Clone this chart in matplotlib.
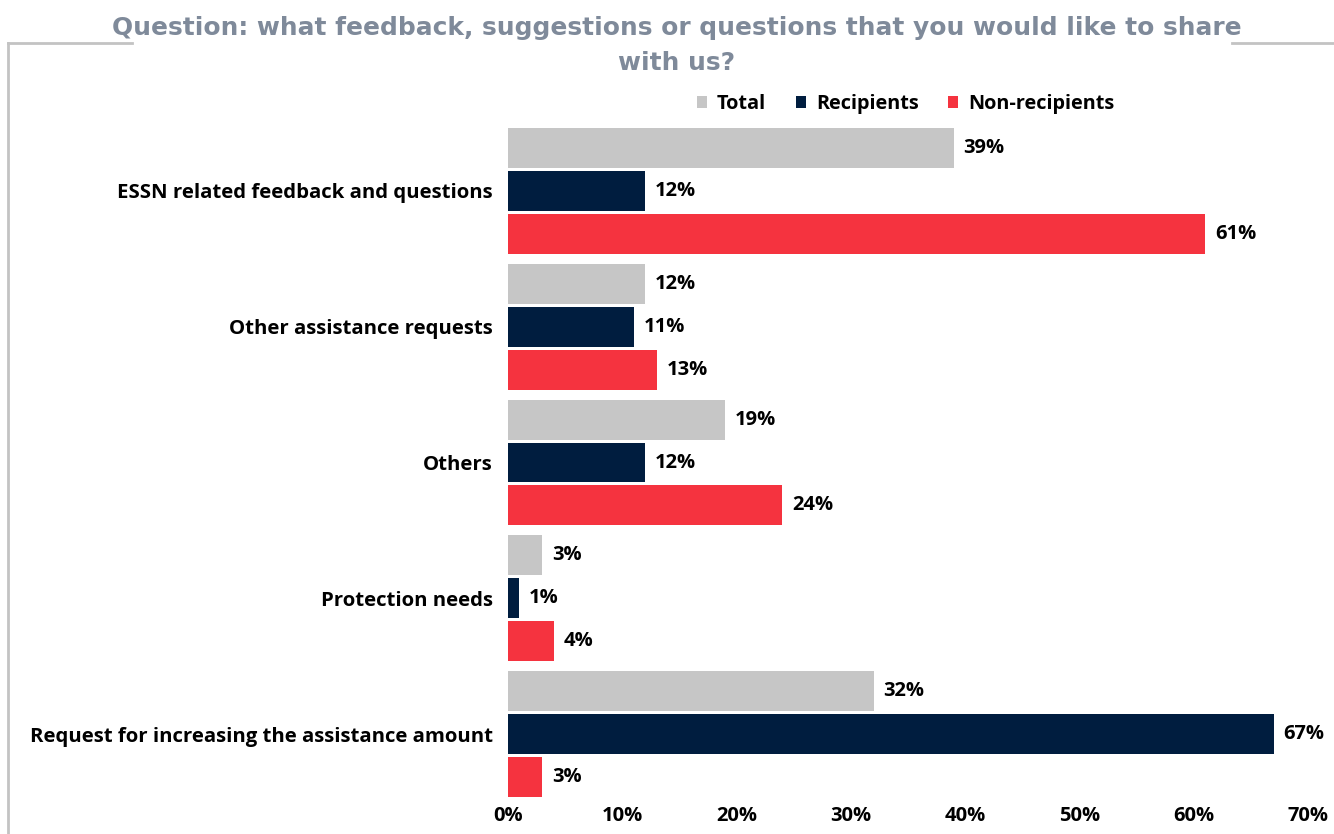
import matplotlib.pyplot as plt
import numpy as np
from matplotlib.lines import Line2D

plt.rcParams['font.family'] = ['Open Sans', 'DejaVu Sans']

categories = ["ESSN related feedback and questions", "Other assistance requests",
              "Others", "Protection needs", "Request for increasing the assistance amount"]
series = ["Total", "Recipients", "Non-recipients"]
total = [39, 12, 19, 3, 32]
recipients = [12, 11, 12, 1, 67]
non_recipients = [61, 13, 24, 4, 3]
colors = ["#c6c6c6", "#001d3f", "#f5333f"]
xticks = [0, 10, 20, 30, 40, 50, 60, 70]

fig = plt.figure(figsize=(13.34, 8.34), dpi=100)
ax = fig.add_axes([508 / 1334, 1 - 802 / 834, 800 / 1334, 679 / 834])

y = np.arange(len(categories))
slot = 0.316
h = 0.294
for i, (vals, name) in enumerate(zip([total, recipients, non_recipients], series)):
    pos = y + (i - 1) * slot
    ax.barh(pos, vals, height=h, color=colors[i], label=name)
    for p, v in zip(pos, vals):
        ax.text(v + 0.85, p, f"{v}%", va="center", ha="left",
                fontsize=14.5, fontweight="bold", color="black")

ax.set_ylim(len(categories) - 0.5, -0.5)
ax.set_xlim(0, 70)
ax.set_yticks(y)
ax.set_yticklabels(categories, fontsize=14.7, fontweight="bold")
ax.set_xticks(xticks)
ax.set_xticklabels([f"{t}%" for t in xticks], fontsize=14.5, fontweight="bold")
ax.tick_params(axis="x", length=0, pad=3)
ax.tick_params(axis="y", length=0, pad=11)
for s in ax.spines.values():
    s.set_visible(False)

leg = fig.legend(loc="center", bbox_to_anchor=(0.679, 1 - 104 / 834), ncol=3,
                 frameon=False, handlelength=0.5, handleheight=0.5,
                 columnspacing=1.5, handletextpad=0.5,
                 prop={"size": 14.3, "weight": "bold"})

title_kw = dict(ha="center", va="center", fontsize=17.9, fontweight="bold",
                color="#7f8a9a", family=["DejaVu Sans"])
fig.text(677 / 1334, 1 - 28 / 834,
         "Question: what feedback, suggestions or questions that you would like to share",
         **title_kw)
fig.text(677 / 1334, 1 - 63 / 834, "with us?", **title_kw)

gc = "#c3c3c3"
fig.add_artist(Line2D([8 / 1334, 8 / 1334], [0, 1 - 43 / 834], color=gc, lw=2))
fig.add_artist(Line2D([8 / 1334, 132 / 1334], [1 - 43 / 834] * 2, color=gc, lw=2))
fig.add_artist(Line2D([1232 / 1334, 1], [1 - 43 / 834] * 2, color=gc, lw=2))

fig.savefig("out.png", dpi=100)
